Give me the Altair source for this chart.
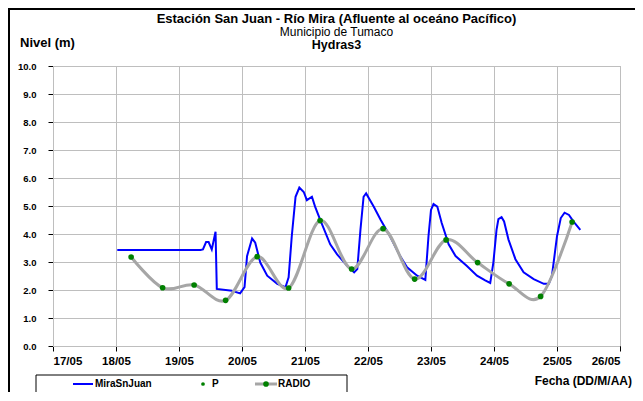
import altair as alt
import pandas as pd

# ---- data (day of May, level m) ----
mira_day = [18.02, 19.34, 19.38, 19.43, 19.47, 19.52, 19.58, 19.60, 19.84, 19.97, 20.04, 20.08,
            20.16, 20.21, 20.29, 20.40, 20.56, 20.69, 20.74, 20.79, 20.85, 20.91, 20.98, 21.03,
            21.11, 21.16, 21.24, 21.40, 21.51, 21.67, 21.78, 21.83, 21.88, 21.93, 21.97, 22.09,
            22.20, 22.35, 22.51, 22.62, 22.78, 22.91, 22.96, 23.00, 23.04, 23.10, 23.17, 23.28,
            23.39, 23.57, 23.73, 23.86, 23.94, 23.99, 24.04, 24.07, 24.12, 24.16, 24.23, 24.34,
            24.47, 24.63, 24.79, 24.87, 24.92, 25.00, 25.06, 25.12, 25.19, 25.26, 25.37]
mira_level = [3.43, 3.43, 3.45, 3.71, 3.71, 3.45, 4.08, 2.04, 1.97, 1.88, 2.10, 3.21,
              3.84, 3.69, 2.98, 2.51, 2.22, 2.10, 2.45, 3.92, 5.33, 5.66, 5.50, 5.21,
              5.33, 4.98, 4.51, 3.63, 3.27, 2.86, 2.63, 2.75, 4.15, 5.33, 5.45, 4.98,
              4.51, 3.92, 3.21, 2.81, 2.51, 2.36, 3.92, 4.86, 5.07, 4.98, 4.39, 3.63,
              3.21, 2.86, 2.51, 2.34, 2.25, 2.98, 4.15, 4.53, 4.60, 4.45, 3.80, 3.10,
              2.63, 2.39, 2.22, 2.22, 2.51, 3.92, 4.57, 4.76, 4.68, 4.45, 4.15]

radio_day = [18.24, 18.74, 19.24, 19.74, 20.24, 20.74, 21.24, 21.74, 22.24, 22.74,
             23.24, 23.74, 24.24, 24.74, 25.24]
radio_level = [3.18, 2.08, 2.18, 1.63, 3.19, 2.07, 4.48, 2.75, 4.19, 2.39,
               3.79, 2.98, 2.22, 1.77, 4.43]

x_ticks = list(range(17, 27))
y_ticks = list(range(0, 11))

title1 = "Estación San Juan  - Río Mira (Afluente al oceáno Pacífico)"
title2 = "Municipio de Tumaco"
title3 = "Hydras3"
y_title = "Nivel (m)"
x_title = "Fecha (DD/M/AA)"
legend_names = ["MiraSnJuan", "P", "RADIO"]

FONT = "Liberation Sans"
W, H = 567, 280
GRID = "#BEBEBE"

mira = pd.DataFrame({"day": mira_day, "level": mira_level})
radio = pd.DataFrame({"day": radio_day, "level": radio_level})
xt = pd.DataFrame({"day": x_ticks})
# horizontal grid: one two-point line per tick level, across the x domain
hg = pd.DataFrame({
    "day": [x_ticks[0], x_ticks[-1]] * len(y_ticks),
    "level": [v for v in y_ticks for _ in range(2)],
    "g": [v for v in y_ticks for _ in range(2)],
})
dummy = pd.DataFrame({"a": [0]})

xs = alt.Scale(domain=[17, 26], nice=False, zero=False)
ys = alt.Scale(domain=[0, 10], nice=False)

x_axis = alt.Axis(values=x_ticks, labelExpr="(datum.value < 10 ? '0' : '') + datum.value + '/05'",
                  title=None, grid=False, domainColor="black", tickColor="black",
                  tickSize=5, labelFont=FONT, labelFontSize=11.5, labelFontWeight="bold",
                  labelColor="black", labelPadding=4, labelOverlap=False)
y_axis = alt.Axis(values=y_ticks, format=".1f", title=None, grid=False,
                  domainColor="black", tickColor="black", tickSize=5, labelFont=FONT,
                  labelFontSize=9.5, labelFontWeight="bold", labelColor="black", labelPadding=12,
                  labelOverlap=False)

X = alt.X("day:Q", scale=xs, axis=x_axis)
Y = alt.Y("level:Q", scale=ys, axis=y_axis)

vgrid = alt.Chart(xt).mark_rule(color=GRID, strokeWidth=1, xOffset=0.5).encode(x=X)
hgrid = alt.Chart(hg).mark_line(color=GRID, strokeWidth=1, yOffset=0.5).encode(
    x=X, y=Y, detail="g:N")

blue = alt.Chart(mira).mark_line(color="#0000FF", strokeWidth=2).encode(x=X, y=Y)
gray = alt.Chart(radio).mark_line(color="#A6A6A6", strokeWidth=3, interpolate="cardinal").encode(x=X, y=Y)
pts = alt.Chart(radio).mark_circle(color="#008000", size=32, opacity=1).encode(x=X, y=Y)

def txt(s, x, y, size, weight="normal", align="center"):
    return alt.Chart(dummy).mark_text(text=s, font=FONT, fontSize=size, fontWeight=weight,
                                      align=align, baseline="middle", color="black").encode(
        x=alt.value(x), y=alt.value(y))

def rule(x1, x2, y1, y2, color="black", w=1):
    return alt.Chart(dummy).mark_rule(color=color, strokeWidth=w).encode(
        x=alt.value(x1), x2=alt.value(x2), y=alt.value(y1), y2=alt.value(y2))

cx = W / 2
titles = (txt(title1, cx, -47, 13, "bold") + txt(title2, cx, -34.5, 12) +
          txt(title3, cx, -21.5, 12.5, "bold") + txt(y_title, -33, -23, 13, "bold", "left") +
          txt(x_title, 579, 315, 12, "bold", "right"))

border = rule(-44, -44, -58, 340, w=2) + rule(-45, 590, -57, -57, w=2)

legend_box = alt.Chart(dummy).mark_rect(fill="white", stroke="black", strokeWidth=1).encode(
    x=alt.value(-17), x2=alt.value(294), y=alt.value(309), y2=alt.value(327))
legend = (legend_box
          + rule(20, 40, 318, 318, "#0000FF", 2)
          + txt(legend_names[0], 42, 318, 10, "bold", "left")
          + alt.Chart(dummy).mark_circle(color="#008000", size=14, opacity=1).encode(
              x=alt.value(150), y=alt.value(318))
          + txt(legend_names[1], 159, 318, 10, "bold", "left")
          + rule(202, 224, 318, 318, "#A6A6A6", 3)
          + alt.Chart(dummy).mark_circle(color="#008000", size=32, opacity=1).encode(
              x=alt.value(213), y=alt.value(318))
          + txt(legend_names[2], 225, 318, 10, "bold", "left"))

chart = alt.layer(vgrid, hgrid, blue, gray, pts, titles, border, legend).properties(
    width=W, height=H,
    autosize=alt.AutoSizeParams(type="none"),
    padding={"left": 45, "top": 58, "right": 15, "bottom": 46},
).configure_view(stroke="#8C8C8C", strokeWidth=1).configure(background="white")

chart.save("out.html", embed_options={"renderer": "svg", "actions": False})
